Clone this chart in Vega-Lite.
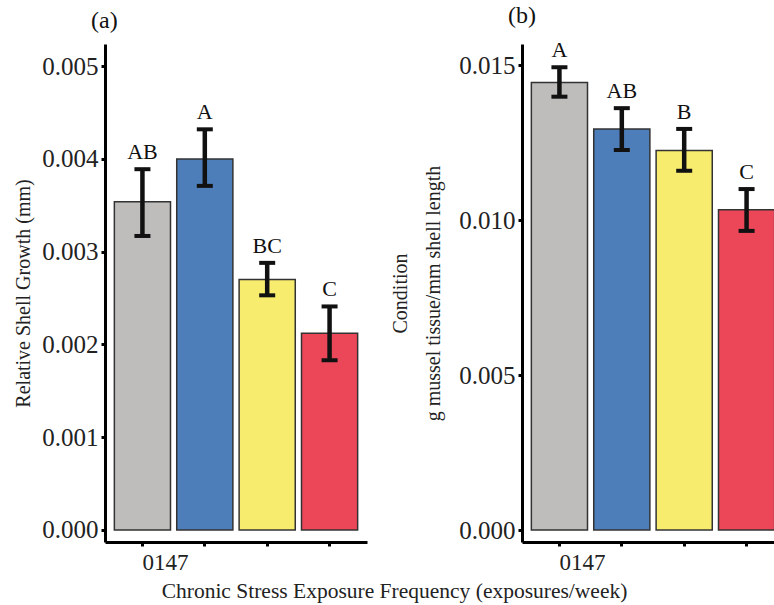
{
  "$schema": "https://vega.github.io/schema/vega-lite/v6.json",
  "background": "white",
  "padding": {"left": 13, "top": 4, "right": 0, "bottom": 5},
  "bounds": "flush",
  "config": {
    "font": "Liberation Serif",
    "view": {"stroke": null},
    "axis": {
      "domainColor": "black", "domainWidth": 3, "tickColor": "black", "tickWidth": 3, "tickSize": 4,
      "labelFont": "Liberation Serif", "titleFont": "Liberation Serif", "labelColor": "#222", "titleColor": "#222",
      "titleFontWeight": "normal", "grid": false
    },
    "title": {"font": "Liberation Serif", "fontWeight": "normal", "fontSize": 24, "color": "#111"}
  },
  "datasets": {
    "growth": [
      {"freq": "0", "value": 0.00354, "lo": 0.00317, "hi": 0.00389, "letter": "AB"},
      {"freq": "1", "value": 0.00400, "lo": 0.00371, "hi": 0.00432, "letter": "A"},
      {"freq": "4", "value": 0.00270, "lo": 0.00253, "hi": 0.00288, "letter": "BC"},
      {"freq": "7", "value": 0.00212, "lo": 0.00183, "hi": 0.00241, "letter": "C"}
    ],
    "condition": [
      {"freq": "0", "value": 0.01444, "lo": 0.01398, "hi": 0.01493, "letter": "A"},
      {"freq": "1", "value": 0.01294, "lo": 0.01226, "hi": 0.01361, "letter": "AB"},
      {"freq": "4", "value": 0.01224, "lo": 0.01159, "hi": 0.01294, "letter": "B"},
      {"freq": "7", "value": 0.01033, "lo": 0.00965, "hi": 0.01100, "letter": "C"}
    ]
  },
  "hconcat": [
    {
      "width": 262, "height": 498,
      "title": {"text": "(a)", "anchor": "start", "frame": "group", "dx": -14, "offset": 11},
      "data": {"name": "growth"},
      "encoding": {
        "x": {"field": "freq", "type": "nominal", "sort": ["0", "1", "4", "7"],
          "scale": {"paddingInner": 0.1, "paddingOuter": 0.15},
          "axis": {"title": "Chronic Stress Exposure Frequency (exposures/week)", "titleFontSize": 21.5,
            "titleX": 289, "titleY": 55, "titleBaseline": "alphabetic", "titleAnchor": "middle",
            "labelAngle": 0, "labelFontSize": 23, "labelAlign": "left", "labelDx": -4, "labelPadding": 5,
            "labelExpr": "datum.label == '0' ? '0147' : ''"}}
      },
      "layer": [
        {
          "mark": {"type": "bar", "stroke": "#333", "strokeWidth": 1.5},
          "encoding": {
            "y": {"field": "value", "type": "quantitative",
              "scale": {"domain": [-0.00013, 0.00524], "nice": false, "zero": false},
              "axis": {"title": "Relative Shell Growth (mm)", "titleFontSize": 20, "titlePadding": 8,
                "values": [0, 0.001, 0.002, 0.003, 0.004, 0.005], "format": ".3f", "labelFontSize": 25, "labelPadding": 3}},
            "y2": {"datum": 0},
            "fill": {"field": "freq", "type": "nominal", "scale": {"domain": ["0", "1", "4", "7"], "range": ["#bebdbb", "#4d7eb9", "#f7ec6d", "#ec4759"]}, "legend": null}
          }
        },
        {
          "mark": {"type": "rule", "color": "#111", "strokeWidth": 4.5},
          "encoding": {"y": {"field": "lo", "type": "quantitative"}, "y2": {"field": "hi"}}
        },
        {
          "mark": {"type": "tick", "color": "#111", "opacity": 1, "thickness": 4, "size": 16, "orient": "horizontal"},
          "encoding": {"y": {"field": "lo", "type": "quantitative"}}
        },
        {
          "mark": {"type": "tick", "color": "#111", "opacity": 1, "thickness": 4, "size": 16, "orient": "horizontal"},
          "encoding": {"y": {"field": "hi", "type": "quantitative"}}
        },
        {
          "mark": {"type": "text", "fontSize": 22, "baseline": "alphabetic", "dy": -10, "color": "#111"},
          "encoding": {"y": {"field": "hi", "type": "quantitative"}, "text": {"field": "letter"}}
        }
      ]
    },
    {
      "width": 262, "height": 498,
      "title": {"text": "(b)", "anchor": "start", "frame": "group", "dx": -14, "offset": 11},
      "data": {"name": "condition"},
      "encoding": {
        "x": {"field": "freq", "type": "nominal", "sort": ["0", "1", "4", "7"],
          "scale": {"paddingInner": 0.1, "paddingOuter": 0.15},
          "axis": {"title": null,
            "labelAngle": 0, "labelFontSize": 23, "labelAlign": "left", "labelDx": -4, "labelPadding": 5,
            "labelExpr": "datum.label == '0' ? '0147' : ''"}}
      },
      "layer": [
        {
          "mark": {"type": "bar", "stroke": "#333", "strokeWidth": 1.5},
          "encoding": {
            "y": {"field": "value", "type": "quantitative",
              "scale": {"domain": [-0.000387, 0.01568], "nice": false, "zero": false},
              "axis": {"title": ["Condition", "g mussel tissue/mm shell length"], "titleFontSize": 20, "titlePadding": 15, "titleLineHeight": 33,
                "values": [0, 0.005, 0.010, 0.015], "format": ".3f", "labelFontSize": 25, "labelPadding": 3}},
            "y2": {"datum": 0},
            "fill": {"field": "freq", "type": "nominal", "scale": {"domain": ["0", "1", "4", "7"], "range": ["#bebdbb", "#4d7eb9", "#f7ec6d", "#ec4759"]}, "legend": null}
          }
        },
        {
          "mark": {"type": "rule", "color": "#111", "strokeWidth": 4.5},
          "encoding": {"y": {"field": "lo", "type": "quantitative"}, "y2": {"field": "hi"}}
        },
        {
          "mark": {"type": "tick", "color": "#111", "opacity": 1, "thickness": 4, "size": 16, "orient": "horizontal"},
          "encoding": {"y": {"field": "lo", "type": "quantitative"}}
        },
        {
          "mark": {"type": "tick", "color": "#111", "opacity": 1, "thickness": 4, "size": 16, "orient": "horizontal"},
          "encoding": {"y": {"field": "hi", "type": "quantitative"}}
        },
        {
          "mark": {"type": "text", "fontSize": 22, "baseline": "alphabetic", "dy": -10, "color": "#111"},
          "encoding": {"y": {"field": "hi", "type": "quantitative"}, "text": {"field": "letter"}}
        }
      ]
    }
  ],
  "spacing": 155
}
